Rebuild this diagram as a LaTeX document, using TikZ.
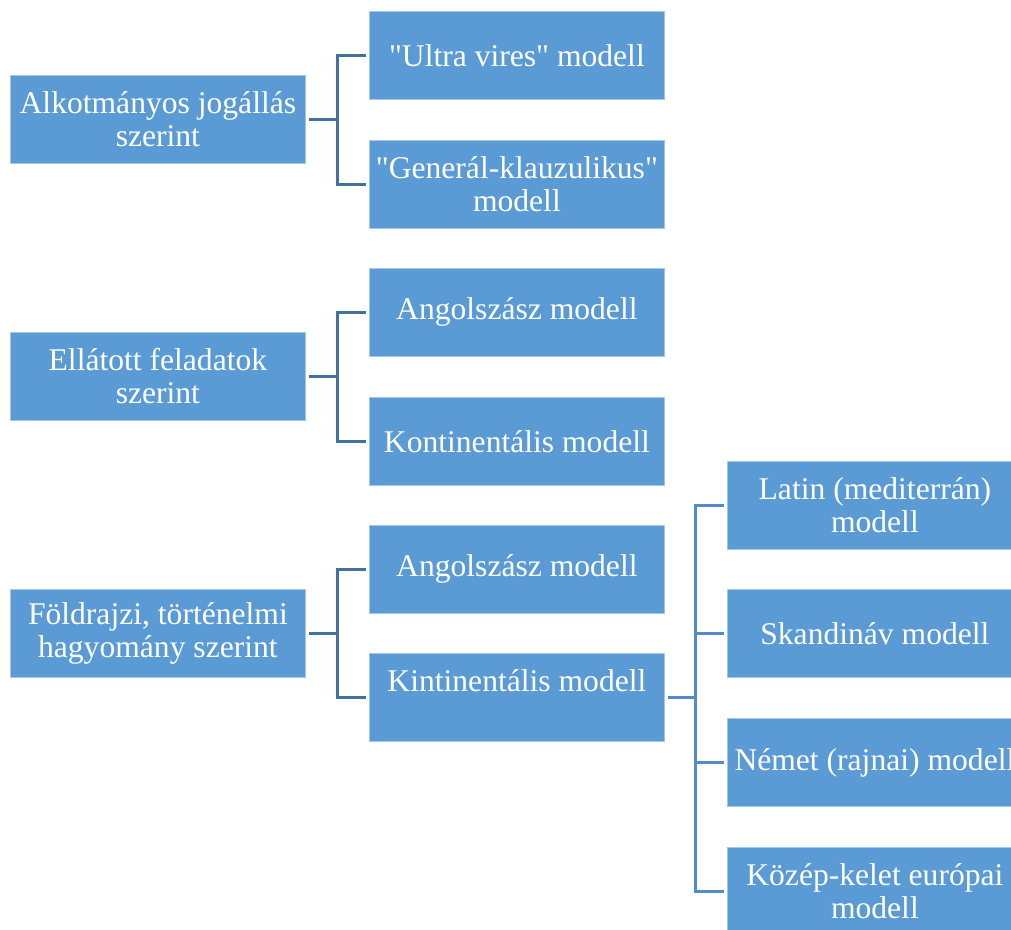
\documentclass[tikz,border=0pt]{standalone}
\usepackage{fontspec}
\setmainfont{Liberation Serif}[Ligatures=TeXOff]
\definecolor{boxblue}{HTML}{5B9BD5}
\definecolor{linkdark}{HTML}{41719C}
\definecolor{linklight}{HTML}{4F8CC9}
\begin{document}
\begin{tikzpicture}[x=1pt,y=-1pt,
  modelbox/.style={fill=boxblue, draw=boxblue!55!white, line width=0.8pt,
    text=white, minimum width=295pt, minimum height=88pt, inner sep=0pt,
    align=center, anchor=north west,
    font=\fontsize{31.6}{33}\selectfont},
  link/.style={draw=linkdark, line width=3pt, shorten <=3pt, shorten >=3pt},
  sublink/.style={draw=linklight, line width=3pt, shorten <=3pt, shorten >=3pt}]
\useasboundingbox (0,0) rectangle (1011,929);
\clip (0,0) rectangle (1011,929);

% first level
\node[modelbox] (a1) at (10,75)  {Alkotmányos jogállás\\szerint};
\node[modelbox] (a2) at (10,332) {Ellátott feladatok\\szerint};
\node[modelbox] (a3) at (10,589) {Földrajzi, történelmi\\hagyomány szerint};

% second level
\node[modelbox] (m1) at (369,11)  {"Ultra vires" modell};
\node[modelbox] (m2) at (369,140) {"Generál-klauzulikus"\\modell};
\node[modelbox] (m3) at (369,268) {Angolszász modell};
\node[modelbox] (m4) at (369,397) {Kontinentális modell};
\node[modelbox] (m5) at (369,525) {Angolszász modell};
\node[modelbox] (m6) at (369,653) {Kintinentális modell\\\mbox{}};

% third level
\node[modelbox] (r1) at (727,461) {Latin (mediterrán)\\modell};
\node[modelbox] (r2) at (727,589) {Skandináv modell};
\node[modelbox] (r3) at (727,718) {Német (rajnai) modell};
\node[modelbox] (r4) at (727,847) {Közép-kelet európai\\modell};

% brackets
\foreach \p/\c in {a1/m1, a1/m2, a2/m3, a2/m4, a3/m5, a3/m6}
  \draw[link] (\p.east) -- ++(32,0) |- (\c.west);
\foreach \c in {r1, r2, r3, r4}
  \draw[sublink] (m6.east) -- ++(31,0) |- (\c.west);
\end{tikzpicture}
\end{document}
